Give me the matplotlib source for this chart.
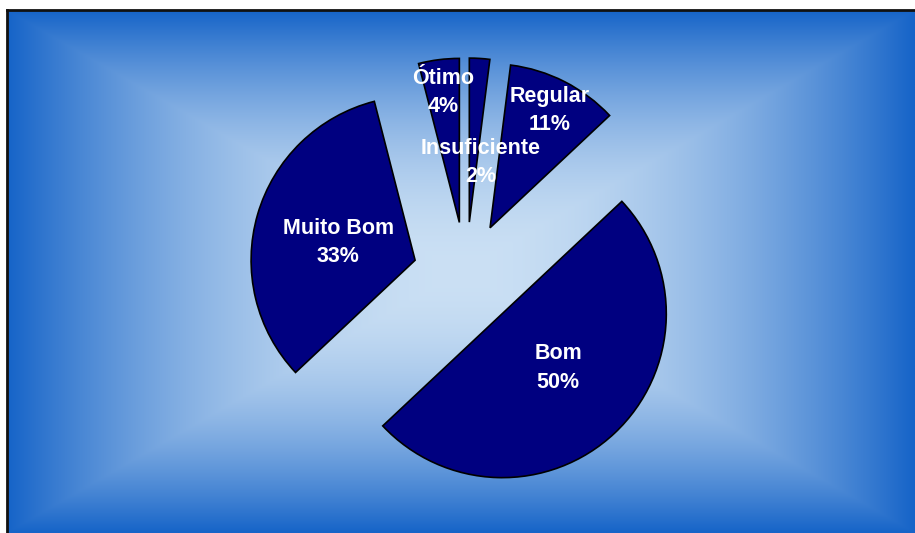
import numpy as np
import matplotlib
matplotlib.use('Agg')
import matplotlib.pyplot as plt

# dados
categorias = ['Ótimo', 'Muito Bom', 'Bom', 'Regular', 'Insuficiente']
percentuais = [4, 33, 50, 11, 2]

# posicao dos rotulos (fracao do raio a partir do centro da fatia, desvio em graus)
rot_dist = [0.80, 0.48, 0.475, 0.80, 0.37]
rot_desvio = [0, 3, 2.5, 0, -7.6]

W, H = 915, 533
fig = plt.figure(figsize=(W / 100, H / 100), dpi=100)
fig.patch.set_facecolor('white')

# fundo com gradiente retangular (claro no centro, azul nas bordas)
bg = fig.add_axes([7 / W, 0, (W - 7) / W, (H - 10) / H])
ny, nx = 300, 500
u = np.abs(np.linspace(-1, 1, nx))[None, :]
v = np.abs(np.linspace(-1, 1, ny))[:, None]
t = np.maximum(u, v) ** 1.9
centro = np.array([203, 224, 244]) / 255
borda = np.array([22, 100, 200]) / 255
img = centro[None, None, :] * (1 - t[..., None]) + borda[None, None, :] * t[..., None]
bg.imshow(img, aspect='auto', extent=[0, 1, 0, 1], interpolation='bilinear')
bg.set_xticks([])
bg.set_yticks([])
for lado in ['right', 'bottom']:
    bg.spines[lado].set_visible(False)
for lado in ['top', 'left']:
    bg.spines[lado].set_color('#111111')
    bg.spines[lado].set_linewidth(2)

# pizza
ax = fig.add_axes([0, 0, 1, 1])
ax.patch.set_alpha(0)
ax.axis('off')
R = 164.0
cx, cy = 466, 275  # pixels a partir do topo

wedges, _ = ax.pie(percentuais, explode=[53 / R] * len(percentuais), startangle=90,
                   colors=['#000080'] * len(percentuais), radius=1,
                   wedgeprops=dict(edgecolor='black', linewidth=1.2))
ax.set_xlim(-cx / R, (W - cx) / R)
ax.set_ylim(-(H - cy) / R, cy / R)
ax.set_aspect('auto')

for w, cat, p, d, dv in zip(wedges, categorias, percentuais, rot_dist, rot_desvio):
    ang = np.deg2rad((w.theta1 + w.theta2) / 2 + dv)
    x0, y0 = w.center
    ax.text(x0 + d * w.r * np.cos(ang), y0 + d * w.r * np.sin(ang),
            '{}\n{}%'.format(cat, p), color='white', fontsize=15.5, fontweight='bold',
            family=['Liberation Sans', 'DejaVu Sans'], ha='center', va='center',
            linespacing=1.45)

plt.savefig('out.png', dpi=100)
plt.close()
